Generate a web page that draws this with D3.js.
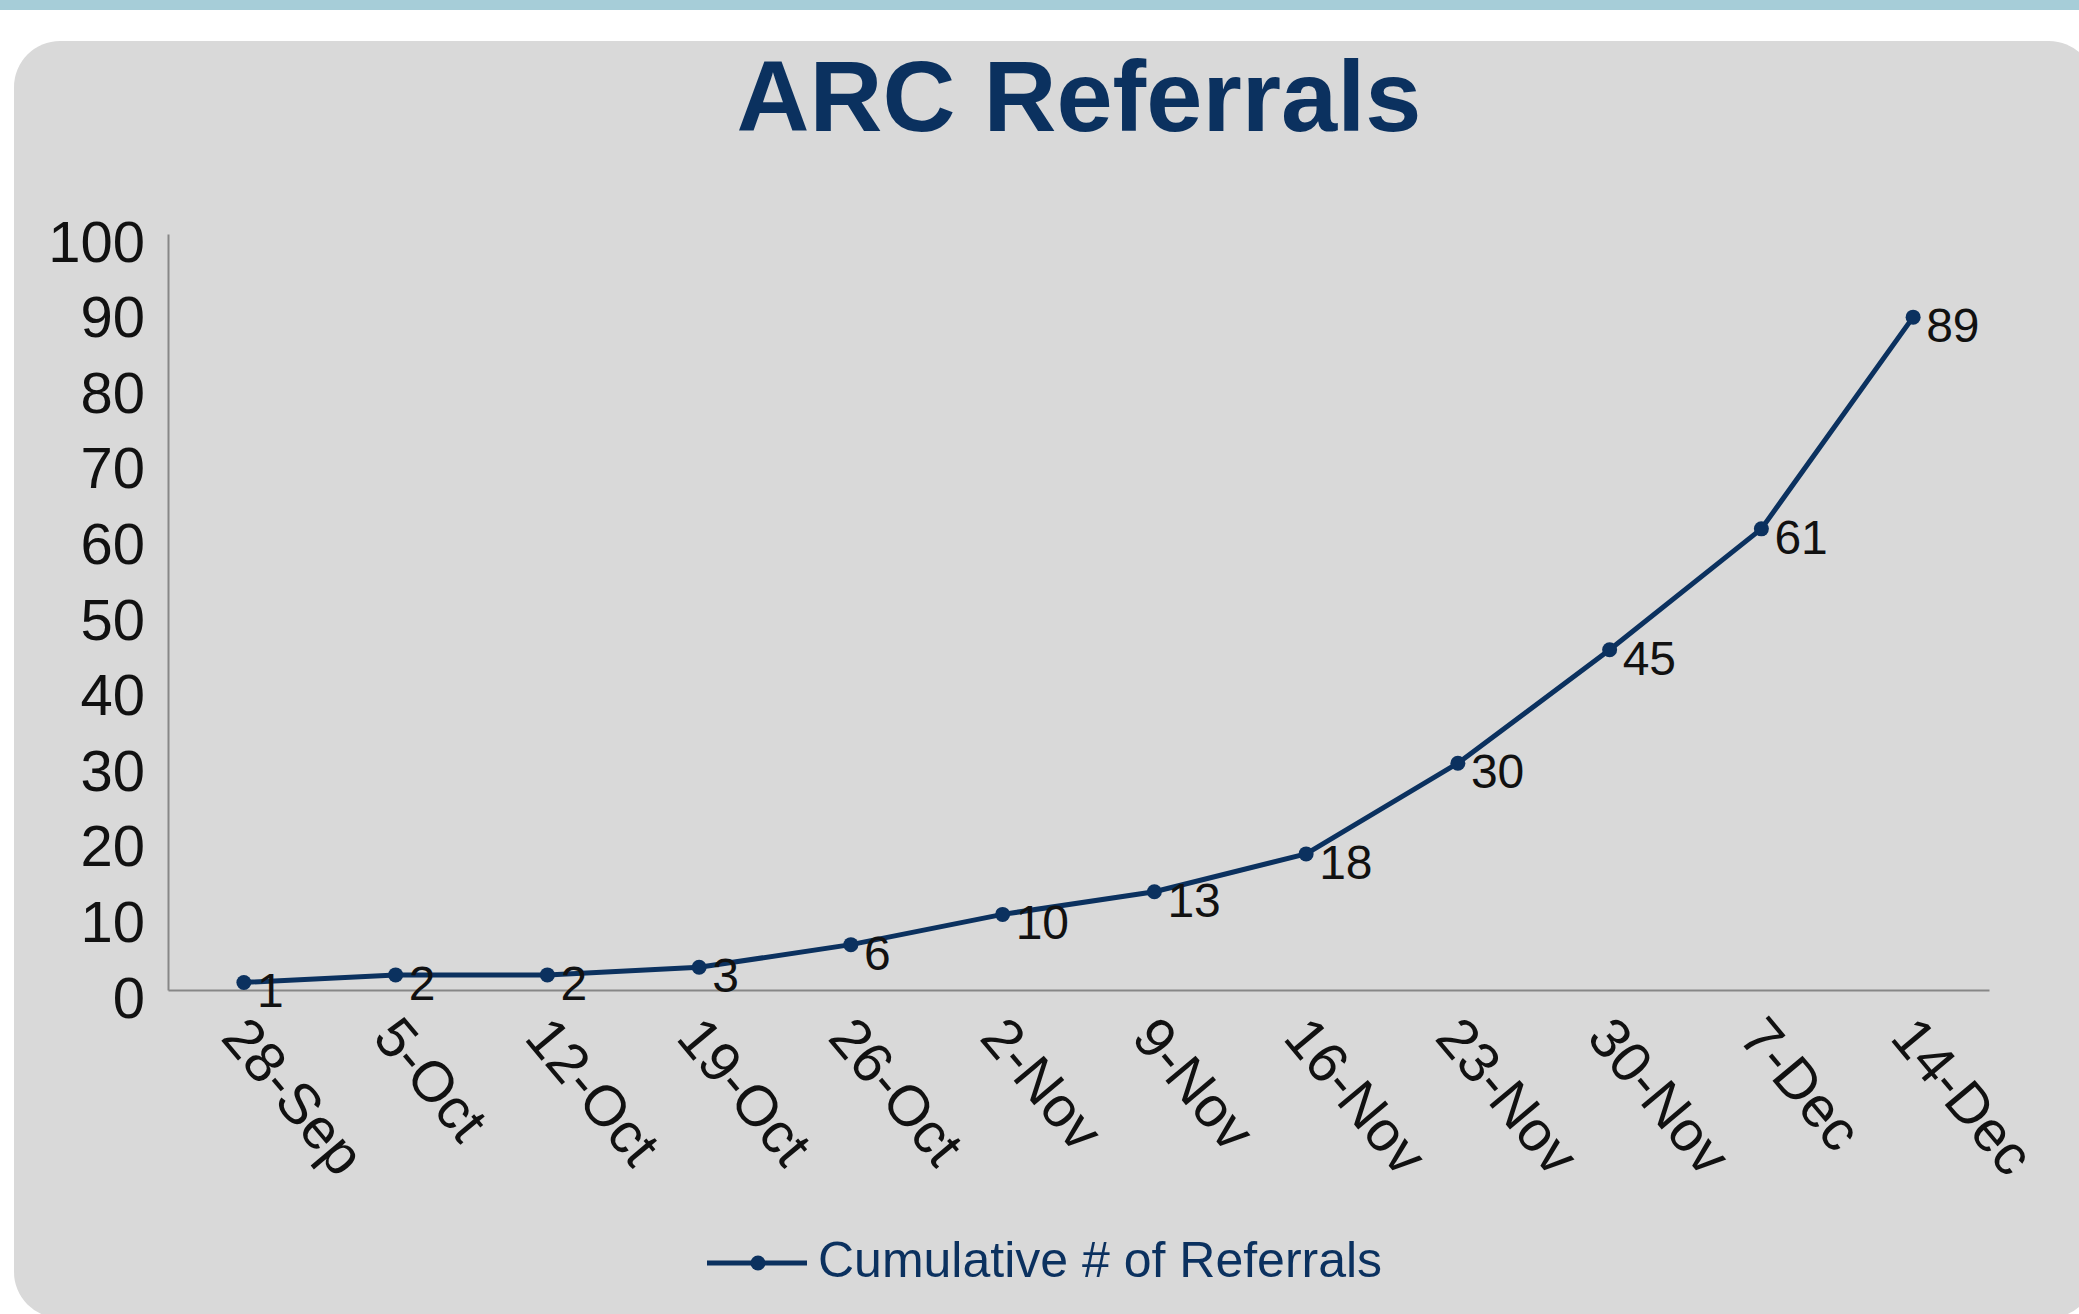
<!DOCTYPE html>
<html>
<head>
<meta charset="utf-8">
<script src="https://cdn.jsdelivr.net/npm/d3@7"></script>
<style>
  html, body { margin: 0; padding: 0; background: #ffffff; }
  svg { display: block; font-family: "Liberation Sans", Arial, sans-serif; }
</style>
</head>
<body>
<svg id="chart"></svg>
<script>
  "use strict";

  // valeurs
  var weeks = ["28-Sep", "5-Oct", "12-Oct", "19-Oct", "26-Oct", "2-Nov",
               "9-Nov", "16-Nov", "23-Nov", "30-Nov", "7-Dec", "14-Dec"];
  var referrals = [1, 2, 2, 3, 6, 10, 13, 18, 30, 45, 61, 89];
  var yTicks = [0, 10, 20, 30, 40, 50, 60, 70, 80, 90, 100];
  var seriesName = "Cumulative # of Referrals";
  var title = "ARC Referrals";

  var navy = "#0b315f";

  var W = 2079, H = 1314;
  var svg = d3.select("#chart").attr("width", W).attr("height", H);
  svg.margin = {top: 234, right: 90, bottom: 324, left: 168};
  svg.width = W - svg.margin.left - svg.margin.right;
  svg.height = H - svg.margin.top - svg.margin.bottom;

  var set_background = function(svg) {
    svg.append("rect")
      .attr("x", 0).attr("y", 0).attr("width", W).attr("height", 10)
      .attr("fill", "#a6cdd8");
    svg.append("rect")
      .attr("x", 14).attr("y", 41).attr("width", 2081).attr("height", 1277)
      .attr("rx", 46).attr("ry", 46)
      .attr("fill", "#d9d9d9");
  }

  var set_title = function(svg, title) {
    svg.append("text")
      .attr("x", 1079)
      .attr("y", 131)
      .attr("text-anchor", "middle")
      .attr("fill", navy)
      .style("font-size", "101px")
      .style("font-weight", "bold")
      .text(title);
  }

  var set_axes = function(svg) {
    svg.x = d3.scaleBand()
      .domain(weeks)
      .range([svg.margin.left, svg.margin.left + svg.width]);

    svg.y = d3.scaleLinear()
      .domain([0, 100])
      .range([svg.margin.top + svg.height, svg.margin.top]);

    var yAxis = svg.append("g")
      .attr("transform", `translate(${svg.margin.left},0)`)
      .call(d3.axisLeft(svg.y).tickValues(yTicks).tickSize(0).tickPadding(23));
    yAxis.select(".domain").attr("stroke", "#878787").attr("stroke-width", 2);
    yAxis.selectAll(".tick text")
      .attr("fill", "#111")
      .attr("dy", null)
      .attr("y", 27)
      .style("font-size", "58px")
      .style("font-family", "'Liberation Sans', Arial, sans-serif");

    var xAxis = svg.append("g")
      .attr("transform", `translate(0,${svg.margin.top + svg.height})`)
      .call(d3.axisBottom(svg.x).tickSize(0).tickSizeOuter(0));
    xAxis.select(".domain").attr("stroke", "#878787").attr("stroke-width", 2);
    xAxis.selectAll(".tick text")
      .attr("fill", "#111")
      .attr("text-anchor", "start")
      .attr("x", 0).attr("y", 0)
      .attr("dy", "0.72em")
      .attr("transform", "translate(7,22) rotate(50)")
      .style("font-size", "57px")
      .style("font-family", "'Liberation Sans', Arial, sans-serif");
  }

  var set_line = function(svg) {
    var cx = d => svg.x(d.week) + svg.x.bandwidth() / 2;
    var data = weeks.map((w, i) => ({week: w, value: referrals[i]}));

    var line = d3.line()
      .x(cx)
      .y(d => svg.y(d.value));

    svg.append("path")
      .datum(data)
      .attr("fill", "none")
      .attr("stroke", navy)
      .attr("stroke-width", 5)
      .attr("stroke-linejoin", "round")
      .attr("d", line);

    svg.append("g")
      .selectAll("circle")
      .data(data)
      .enter().append("circle")
      .attr("cx", cx)
      .attr("cy", d => svg.y(d.value))
      .attr("r", 7.5)
      .attr("fill", navy);

    svg.append("g")
      .selectAll("text")
      .data(data)
      .enter().append("text")
      .attr("x", d => cx(d) + 13)
      .attr("y", d => svg.y(d.value) + 25)
      .attr("fill", "#111")
      .style("font-size", "48px")
      .text(d => d.value);
  }

  var set_legend = function(svg) {
    var g = svg.append("g").attr("transform", "translate(707,1263)");
    g.append("line")
      .attr("x1", 0).attr("x2", 100).attr("y1", 0).attr("y2", 0)
      .attr("stroke", navy).attr("stroke-width", 5);
    g.append("circle").attr("cx", 51).attr("cy", 0).attr("r", 7.5).attr("fill", navy);
    g.append("text")
      .attr("x", 111).attr("y", 14)
      .attr("fill", navy)
      .style("font-size", "50px")
      .text(seriesName);
  }

  set_background(svg);
  set_title(svg, title);
  set_axes(svg);
  set_line(svg);
  set_legend(svg);
</script>
</body>
</html>
